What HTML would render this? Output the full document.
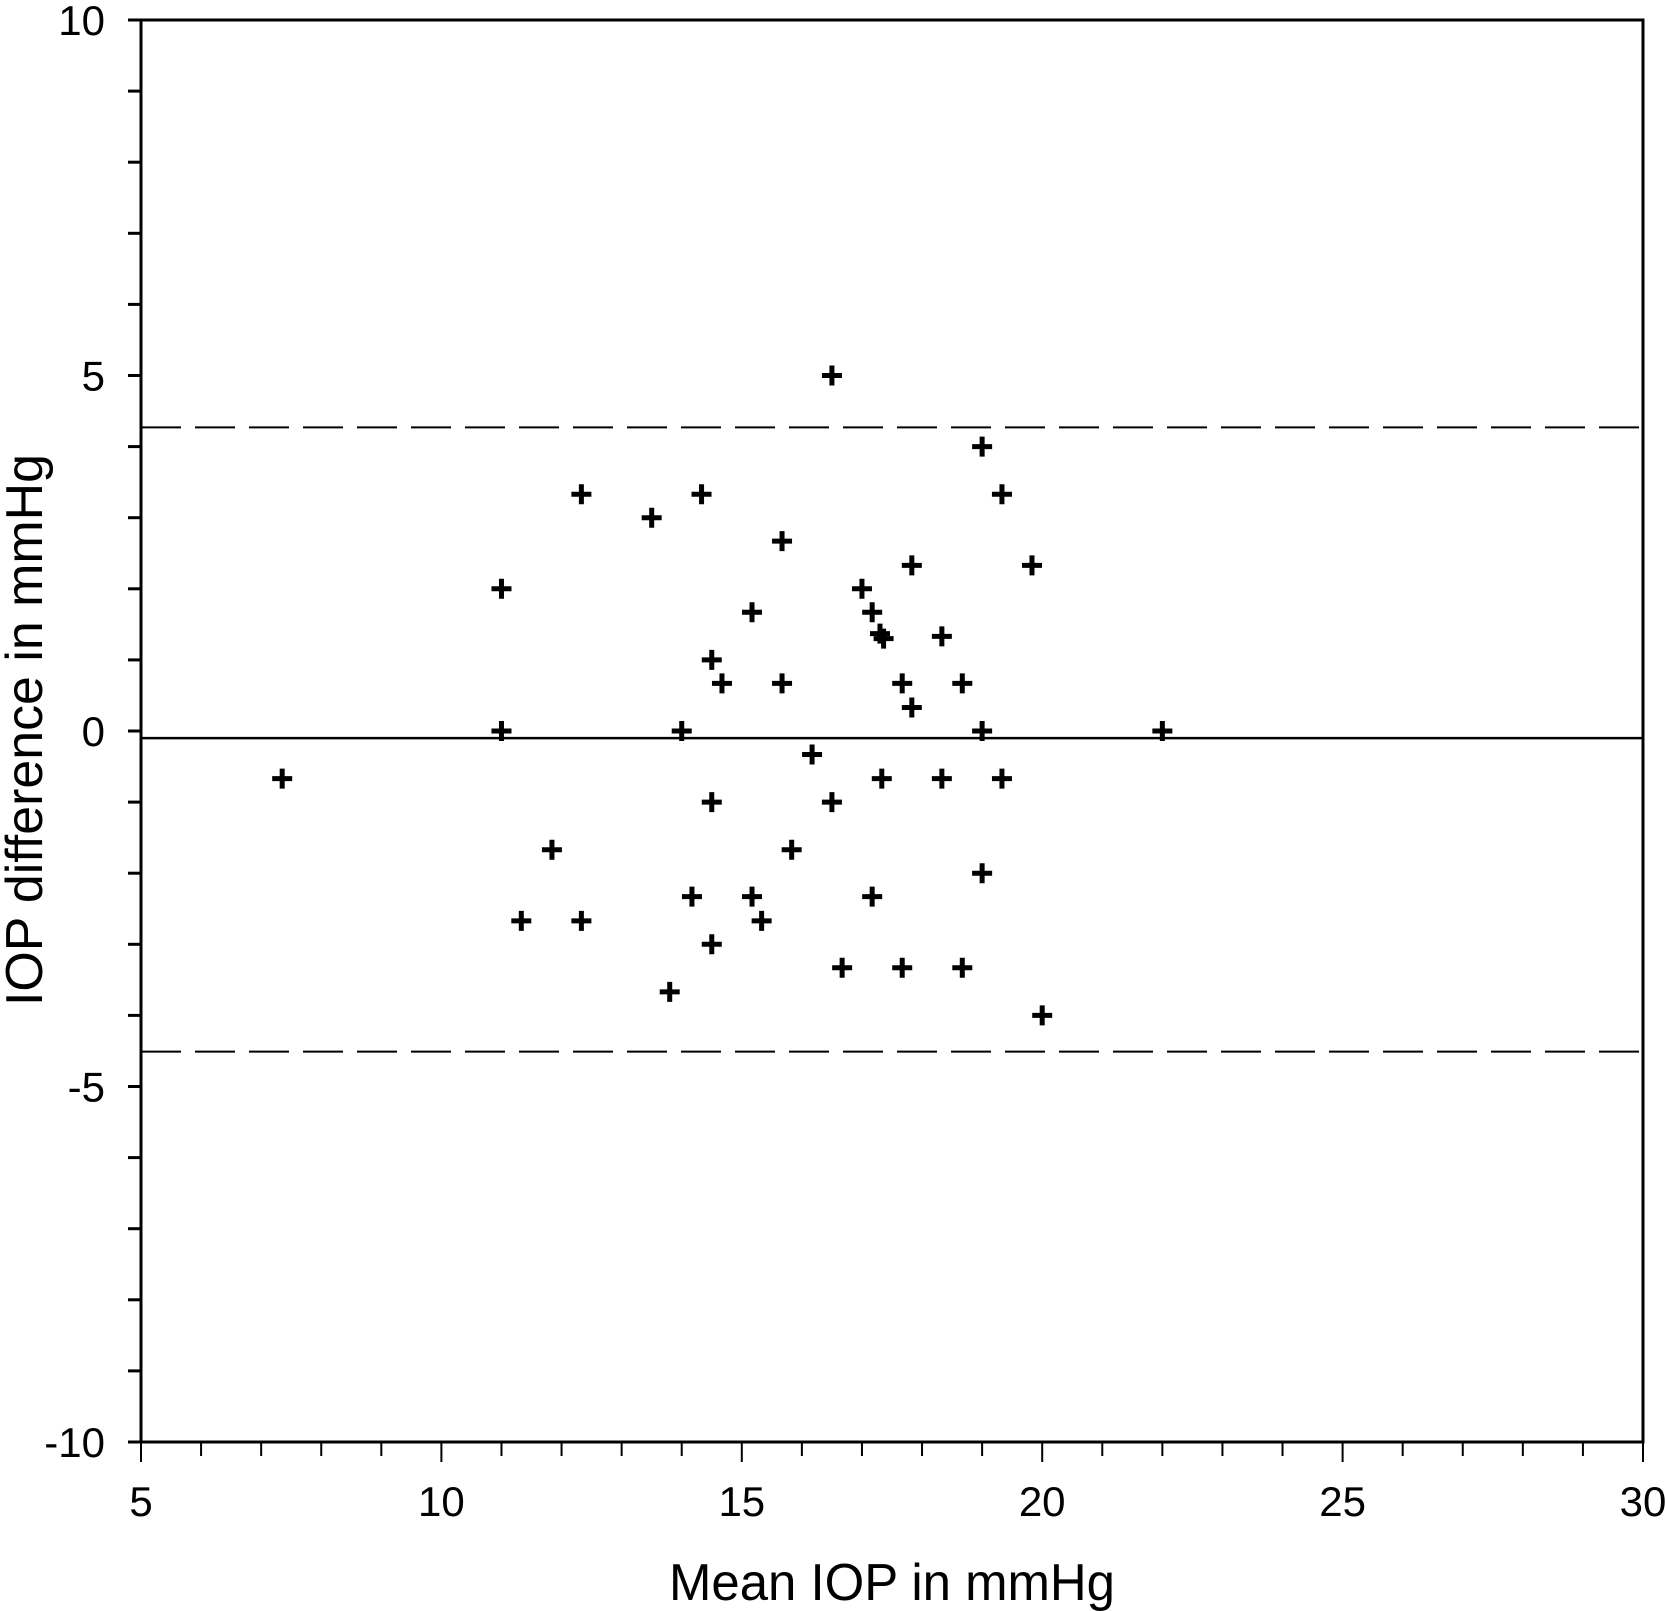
<!DOCTYPE html>
<html><head><meta charset="utf-8"><style>
html,body{margin:0;padding:0;background:#fff;}
svg{display:block;}
text{font-family:"Liberation Sans",Arial,sans-serif;fill:#000;}
</style></head><body>
<svg id="chart" width="1665" height="1611" viewBox="0 0 1665 1611">
<g id="axes"></g>
<g id="marks"></g>
<text x="892" y="1600" font-size="52" text-anchor="middle" textLength="446" lengthAdjust="spacingAndGlyphs">Mean IOP in mmHg</text>
<text x="0" y="0" font-size="52" text-anchor="middle" textLength="552" lengthAdjust="spacingAndGlyphs" transform="translate(42,730) rotate(-90)">IOP difference in mmHg</text>
</svg>
<script>
const xTicks = [5, 10, 15, 20, 25, 30];
const yTicks = [-10, -5, 0, 5, 10];
const meanDiff = -0.1;
const upperLoA = 4.27;
const lowerLoA = -4.51;
const meanIOP = [7.35,11.0,11.0,12.33,11.84,11.33,12.33,13.5,14.33,14.0,13.8,14.17,14.5,14.67,14.5,14.5,15.67,15.17,15.67,15.83,15.17,15.33,16.5,16.17,16.5,16.67,17.0,17.17,17.3,17.36,17.33,17.17,17.67,17.83,17.83,17.67,18.33,18.33,18.67,18.67,19.0,19.33,19.0,19.33,19.0,19.83,20.0,22.0];
const iopDiff = [-0.67,2.0,0,3.33,-1.67,-2.67,-2.67,3.0,3.33,0,-3.67,-2.33,1.0,0.67,-1.0,-3.0,2.67,1.67,0.67,-1.67,-2.33,-2.67,5.0,-0.33,-1.0,-3.33,2.0,1.67,1.37,1.3,-0.67,-2.33,0.67,0.33,2.33,-3.33,1.33,-0.67,0.67,-3.33,4.0,3.33,0,-0.67,-2.0,2.33,-4.0,0];

const L=141,R=1643,T=20,B=1442;
const sx=v=>L+(v-5)*(R-L)/25;
const sy=v=>B-(v+10)*(B-T)/20;
const NS='http://www.w3.org/2000/svg';
function mk(tag,attrs,parent){const e=document.createElementNS(NS,tag);for(const k in attrs)e.setAttribute(k,attrs[k]);parent.appendChild(e);return e;}
const axes=document.getElementById('axes');
const marks=document.getElementById('marks');

let fr=mk('rect',{x:L,y:T,width:R-L,height:B-T,fill:'none',stroke:'#000','stroke-width':3},axes);



for(let v=5;v<=30;v++){
  const major=(v%5===0);
  const t=mk('line',{x1:sx(v),x2:sx(v),y1:B,y2:B+(major?20:14),stroke:'#000','stroke-width':2},axes);
  
  
}
for(let v=-10;v<=10;v++){
  const t=mk('line',{x1:L-13,x2:L,y1:sy(v),y2:sy(v),stroke:'#000','stroke-width':3},axes);
  
  
}
xTicks.forEach(v=>{
  const t=mk('text',{x:sx(v),y:1516,'font-size':42,'text-anchor':'middle'},axes);
  t.textContent=v;
  
  
});
yTicks.forEach(v=>{
  const t=mk('text',{x:105,y:sy(v)+15,'font-size':42,'text-anchor':'end'},axes);
  t.textContent=v;
  
  
});

const ml=mk('line',{x1:L,x2:R,y1:sy(meanDiff),y2:sy(meanDiff),stroke:'#000','stroke-width':2.5},axes);


const ul=mk('line',{x1:L,x2:R,y1:sy(upperLoA),y2:sy(upperLoA),stroke:'#000','stroke-width':2,'stroke-dasharray':'40 14'},axes);


const ll=mk('line',{x1:L,x2:R,y1:sy(lowerLoA),y2:sy(lowerLoA),stroke:'#000','stroke-width':2,'stroke-dasharray':'40 14'},axes);



meanIOP.forEach((m,i)=>{
  const x=sx(m),y=sy(iopDiff[i]);
  const p=mk('path',{d:`M${x-10},${y}H${x+10}M${x},${y-10}V${y+10}`,stroke:'#000','stroke-width':5,fill:'none'},marks);
  
  
});
</script>
</body></html>
